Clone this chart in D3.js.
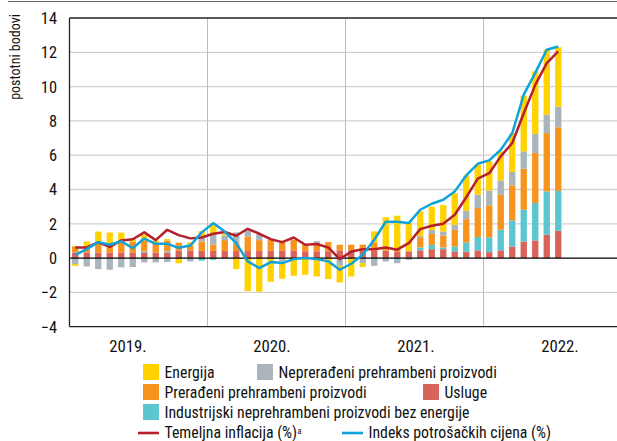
<!DOCTYPE html>
<html><head><meta charset="utf-8">
<script src="https://cdn.jsdelivr.net/npm/d3@7"></script>
<style>
body{margin:0;background:#fff;}
svg text{font-family:"Liberation Sans Narrow","Arial Narrow","Roboto Condensed","Liberation Sans",sans-serif;fill:#111;}
</style></head><body><svg id="c" width="617" height="441"></svg>
<script>
const years = ["2019.","2020.","2021.","2022."];
const yTicks = [-4,-2,0,2,4,6,8,10,12,14];
const usluge = [0.33,0.33,0.33,0.33,0.33,0.33,0.33,0.33,0.33,0.45,0.45,0.42,
  0.42,0.41,0.41,0.41,0.41,0.43,0.45,0.45,0.4,0.4,0.4,0.45,
  0.45,0.43,0.43,0.43,0.39,0.39,0.45,0.52,0.52,0.39,0.37,0.45,
  0.35,0.45,0.68,0.97,1.03,1.36,1.59];
const industrijski = [0,0,0,0,0,0,0.06,0,0.06,0,0,-0.15,
  -0.1,0,0,0,0,0,0,0,0,0,0,0,
  0,0,-0.1,0,-0.1,0,0.17,0.25,0.1,0.29,0.54,0.78,
  0.86,1.2,1.52,1.85,2.18,2.53,2.33];
const preradjeni = [0.35,0.31,0.64,0.54,0.64,0.64,0.64,0.58,0.64,0.45,0.27,0.55,
  0.36,0.64,0.45,0.85,0.64,0.62,0.45,0.62,0.38,0.48,0.54,0.33,
  0.33,0.35,0.45,0.16,0.19,0.02,0.6,0.64,0.7,0.97,1.36,1.69,
  1.87,2.04,2.04,2.39,2.92,3.4,3.71];
const nepreradjeni = [-0.35,-0.49,-0.64,-0.68,-0.54,-0.52,-0.25,-0.25,-0.23,-0.05,-0.2,0.3,
  0.62,0.27,0.64,0.35,0.33,0.05,-0.2,0,0,0.1,0,-0.45,
  0,-0.29,-0.35,-0.2,-0.2,-0.1,0.08,0.23,0.23,0.29,0.49,0.78,
  0.86,0.84,0.78,1.01,1.11,1.07,1.2];
const energija = [-0.1,0.33,0.58,0.62,0.52,0.2,0.33,0.1,0.08,-0.25,0.2,0.3,
  0.62,0.08,-0.64,-1.92,-1.96,-1.38,-1.0,-1.03,-0.97,-1.07,-1.22,-0.97,
  -1.07,-0.23,0.68,1.79,1.89,1.65,1.42,1.36,1.55,1.85,2.06,1.75,
  1.71,1.69,2.24,3.25,3.65,3.79,3.46];
const temeljna = [0.62,0.62,0.92,0.66,1.03,1.1,1.5,1.05,1.65,1.34,1.15,1.2,
  1.42,1.52,1.3,1.71,1.42,1.1,0.93,1.2,0.78,0.82,0.62,-0.06,
  0.38,0.52,0.52,0.62,0.49,0.87,1.69,1.89,2.0,2.53,3.55,4.63,
  4.95,5.93,6.71,8.45,10.1,11.37,12.05];
const indeks = [0.19,0.52,0.93,0.78,0.98,0.58,1.14,0.83,0.83,0.6,0.73,1.5,
  2.04,1.55,0.87,-0.19,-0.58,-0.23,-0.29,-0.06,0.0,-0.06,-0.19,-0.68,
  -0.33,0.19,1.07,2.12,2.12,2.04,2.82,3.17,3.4,3.89,4.82,5.5,
  5.7,6.32,7.29,9.53,10.8,12.15,12.34];

const seriesKeys = ["usluge","industrijski","preradjeni","nepreradjeni","energija"];
const seriesVals = {usluge, industrijski, preradjeni, nepreradjeni, energija};
const colors = {usluge:"#d9625a", industrijski:"#5cc6d0", preradjeni:"#f7941e", nepreradjeni:"#a9b5ba", energija:"#ffd200"};
const lineColors = {temeljna:"#b5202a", indeks:"#10a3da"};

// all months of the axis (Jan 2019 - Dec 2022)
const axisMonths = [];
years.forEach((y,yi)=>{ for(let m=0;m<12;m++) axisMonths.push(yi*12+m); });
const nData = usluge.length;
const rows = d3.range(nData).map(i=>{
  const r={i};
  seriesKeys.forEach(k=>r[k]=seriesVals[k][i]);
  return r;
});

const svg = d3.select("#c");
const left = 69.5, bandW = 11.5;
const x = d3.scaleBand().domain(axisMonths).range([left, left + bandW*axisMonths.length]).paddingInner(0.45).paddingOuter(0.225);
const y = d3.scaleLinear().domain([-4,14]).range([326.7,18]);
const right = left + bandW*axisMonths.length;
const gap = (x.step()-x.bandwidth())/2;

// top rule
svg.append("line").attr("x1",8).attr("x2",617).attr("y1",1.5).attr("y2",1.5).attr("stroke","#666").attr("stroke-width",1);

// horizontal gridlines
svg.append("g").selectAll("line").data(yTicks.filter(t=>t!==0 && t!==-4 && t!==14)).join("line")
  .attr("x1",left).attr("x2",right).attr("y1",d=>y(d)).attr("y2",d=>y(d))
  .attr("stroke","#d2d2d2").attr("stroke-width",1.3);
// year separators
svg.append("g").selectAll("line").data(years.slice(1)).join("line")
  .attr("x1",(d,i)=>x((i+1)*12) - gap)
  .attr("x2",(d,i)=>x((i+1)*12) - gap)
  .attr("y1",y(14)).attr("y2",y(-4))
  .attr("stroke","#bdbdbd").attr("stroke-width",1);

// stacked bars
const stack = d3.stack().keys(seriesKeys).offset(d3.stackOffsetDiverging);
const stacked = stack(rows);
svg.append("g").selectAll("g").data(stacked).join("g")
  .attr("fill",d=>colors[d.key])
  .selectAll("rect").data(d=>d).join("rect")
  .attr("x",d=>x(d.data.i))
  .attr("width",x.bandwidth())
  .attr("y",d=>y(Math.max(d[0],d[1])))
  .attr("height",d=>Math.abs(y(d[0])-y(d[1])));

// zero line
svg.append("line").attr("x1",left).attr("x2",right).attr("y1",y(0)).attr("y2",y(0)).attr("stroke","#000").attr("stroke-width",1.3);

// lines
const lineGen = d3.line().x((d,i)=>x(i)+x.bandwidth()/2).y(d=>y(d));
svg.append("path").datum(temeljna).attr("d",lineGen).attr("fill","none").attr("stroke",lineColors.temeljna).attr("stroke-width",2.5).attr("stroke-linejoin","round");
svg.append("path").datum(indeks).attr("d",lineGen).attr("fill","none").attr("stroke",lineColors.indeks).attr("stroke-width",2.5).attr("stroke-linejoin","round");

// frame
svg.append("line").attr("x1",left).attr("x2",right).attr("y1",y(14)).attr("y2",y(14)).attr("stroke","#222").attr("stroke-width",1.3);
svg.append("line").attr("x1",left).attr("x2",right).attr("y1",y(-4)).attr("y2",y(-4)).attr("stroke","#222").attr("stroke-width",1.3);
svg.append("line").attr("x1",left).attr("x2",left).attr("y1",y(14)).attr("y2",y(-4)).attr("stroke","#222").attr("stroke-width",1.3);

// y labels
svg.append("g").selectAll("text").data(yTicks).join("text")
  .attr("x",57).attr("y",d=>y(d)).attr("dy","0.36em").attr("text-anchor","end")
  .style("font-size","16.4px")
  .text(d=>d<0?"\u2212"+Math.abs(d):d);
svg.append("text").attr("transform","translate(20,57) rotate(-90)").attr("text-anchor","middle")
  .style("font-size","14px").text("postotni bodovi");

// x labels
const xl = d3.scalePoint().domain(years).range([128,560]);
svg.append("g").selectAll("text").data(years).join("text")
  .attr("x",d=>xl(d)).attr("y",352).attr("text-anchor","middle").style("font-size","16.8px").text(d=>d);

// legend
const legendItems = [
  {key:"energija", label:"Energija", col:0, row:0},
  {key:"nepreradjeni", label:"Neprerađeni prehrambeni proizvodi", col:1, row:0},
  {key:"preradjeni", label:"Prerađeni prehrambeni proizvodi", col:0, row:1},
  {key:"usluge", label:"Usluge", col:2, row:1},
  {key:"industrijski", label:"Industrijski neprehrambeni proizvodi bez energije", col:0, row:2}
];
const legX = [143, 257, 423];
const legY0 = 364, legDy = 20;
const lg = svg.append("g");
legendItems.forEach(it=>{
  const lx = legX[it.col], ly = legY0 + it.row*legDy;
  lg.append("rect").attr("x",lx).attr("y",ly).attr("width",16).attr("height",16).attr("fill",colors[it.key]);
  lg.append("text").attr("x",lx+21.5).attr("y",ly+8).attr("dy","0.36em").style("font-size","15.8px").text(it.label);
});
const lineLeg = [
  {key:"temeljna", label:"Temeljna inflacija (%)", sup:"a", x:138},
  {key:"indeks", label:"Indeks potrošačkih cijena (%)", sup:null, x:342}
];
lineLeg.forEach(it=>{
  const ly = legY0 + 3*legDy + 8;
  lg.append("line").attr("x1",it.x).attr("x2",it.x+21).attr("y1",ly+1).attr("y2",ly+1).attr("stroke",lineColors[it.key]).attr("stroke-width",2.6);
  const t = lg.append("text").attr("x",it.x+26.5).attr("y",ly).attr("dy","0.36em").style("font-size","15.8px").text(it.label);
  if(it.sup) t.append("tspan").attr("dy","-0.45em").style("font-size","9px").text(it.sup);
});
</script></body></html>
